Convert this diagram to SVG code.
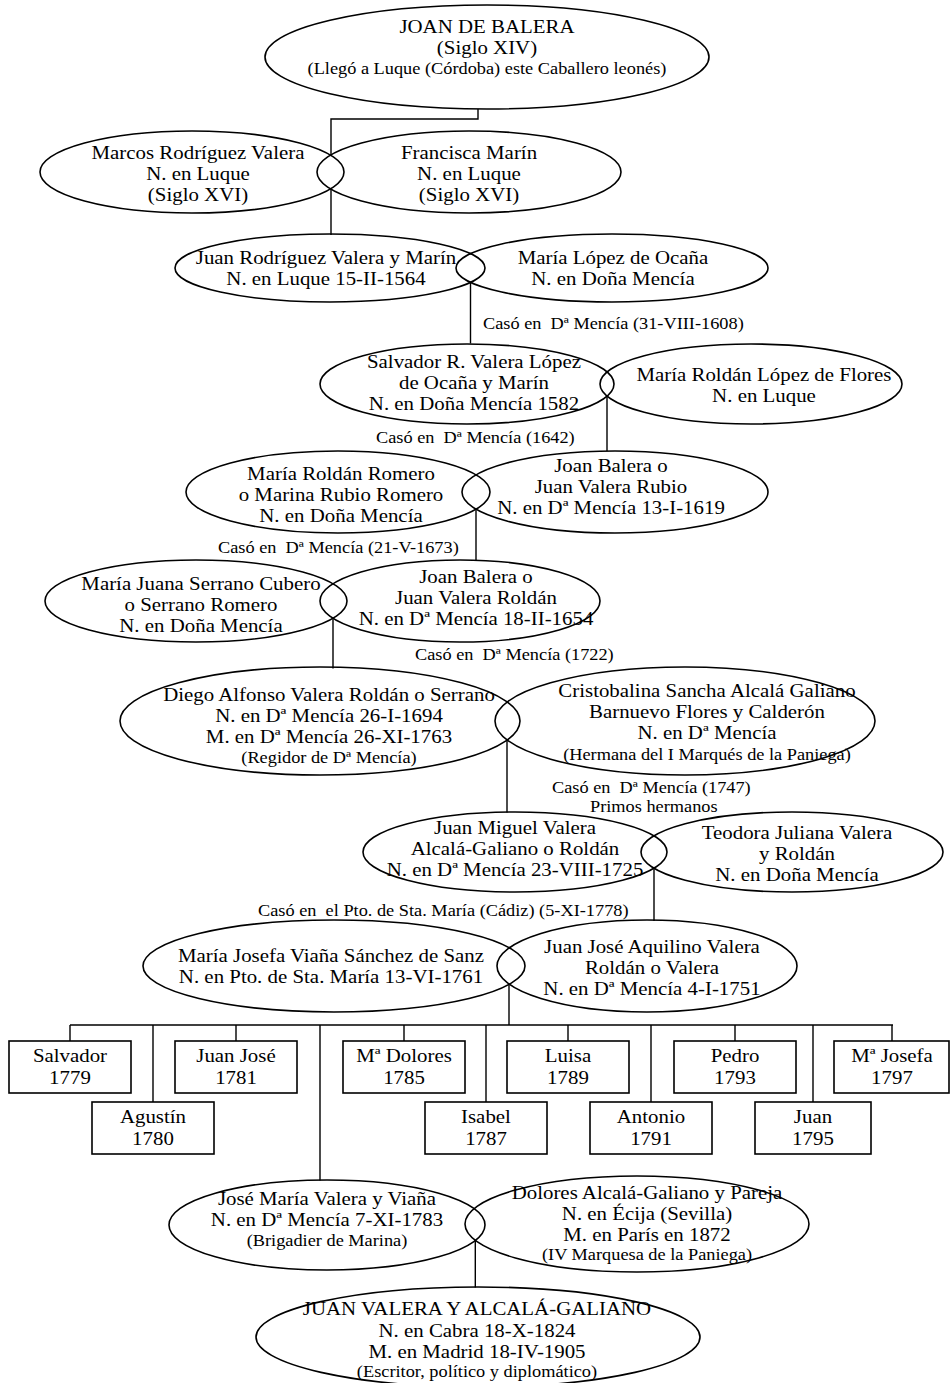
<svg xmlns="http://www.w3.org/2000/svg" width="951" height="1383" viewBox="0 0 951 1383">
<style>
.n{fill:none;stroke:#000;stroke-width:1.6}
.b{fill:#fff;stroke:#000;stroke-width:1.6}
.c{fill:none;stroke:#000;stroke-width:1.4}
text{font-family:"Liberation Serif","Times New Roman",serif;fill:#000;transform-box:fill-box}
.t{font-size:18.8px;text-anchor:middle;transform-origin:center;transform:scaleX(1.11)}
.s{font-size:16.5px;text-anchor:middle;transform-origin:center;transform:scaleX(1.11)}
.l{font-size:16.5px;transform-origin:left center;transform:scaleX(1.11)}
</style>
<rect width="951" height="1383" fill="#fff"/>
<g id="connectors">
<path class="c" d="M478,109 V119 H331 V155.5 M331,188.5 V235"/>
<path class="c" d="M470.5,282.5 V343.5"/>
<path class="c" d="M607,396 V451"/>
<path class="c" d="M476,509 V561"/>
<path class="c" d="M333,618.5 V668.5"/>
<path class="c" d="M507,740 V812.5"/>
<path class="c" d="M654,868 V921"/>
<path class="c" d="M509,984 V1025 M70,1025 H893 M70,1025 V1041 M236,1025 V1041 M404,1025 V1041 M568,1025 V1041 M735,1025 V1041 M892,1025 V1041 M153,1025 V1102 M486,1025 V1102 M651,1025 V1102 M813,1025 V1102 M320,1025 V1180.5"/>
<path class="c" d="M475.3,1240.4 V1287.5"/>
</g>
<g id="joan-de-balera">
<ellipse class="n" cx="487" cy="57" rx="222" ry="52"/>
<text class="t" x="487" y="33">JOAN DE BALERA</text>
<text class="t" x="487" y="54">(Siglo XIV)</text>
<text class="s" x="487" y="74">(Llegó a Luque (Córdoba) este Caballero leonés)</text>
</g>
<g id="marcos">
<ellipse class="n" cx="192" cy="172" rx="152" ry="41"/>
<text class="t" x="198" y="159">Marcos Rodríguez Valera</text>
<text class="t" x="198" y="180">N. en Luque</text>
<text class="t" x="198" y="201">(Siglo XVI)</text>
</g>
<g id="francisca">
<ellipse class="n" cx="469" cy="172" rx="152" ry="41"/>
<text class="t" x="469" y="159">Francisca Marín</text>
<text class="t" x="469" y="180">N. en Luque</text>
<text class="t" x="469" y="201">(Siglo XVI)</text>
</g>
<g id="juan-rodriguez">
<ellipse class="n" cx="330" cy="268" rx="155" ry="34"/>
<text class="t" x="326" y="264">Juan Rodríguez Valera y Marín</text>
<text class="t" x="326" y="285">N. en Luque 15-II-1564</text>
</g>
<g id="maria-lopez">
<ellipse class="n" cx="612" cy="268" rx="156" ry="34"/>
<text class="t" x="613" y="264">María López de Ocaña</text>
<text class="t" x="613" y="285">N. en Doña Mencía</text>
</g>
<text class="l" x="483" y="329">Casó en&#160; Dª Mencía (31-VIII-1608)</text>
<g id="salvador">
<ellipse class="n" cx="467" cy="384" rx="147" ry="40"/>
<text class="t" x="474" y="368">Salvador R. Valera López</text>
<text class="t" x="474" y="389">de Ocaña y Marín</text>
<text class="t" x="474" y="410">N. en Doña Mencía 1582</text>
</g>
<g id="maria-roldan-lopez">
<ellipse class="n" cx="751" cy="384" rx="151" ry="40"/>
<text class="t" x="764" y="381">María Roldán López de Flores</text>
<text class="t" x="764" y="402">N. en Luque</text>
</g>
<text class="l" x="376" y="443">Casó en&#160; Dª Mencía (1642)</text>
<g id="maria-roldan-romero">
<ellipse class="n" cx="338" cy="492" rx="152" ry="41"/>
<text class="t" x="341" y="480">María Roldán Romero</text>
<text class="t" x="341" y="501">o Marina Rubio Romero</text>
<text class="t" x="341" y="522">N. en Doña Mencía</text>
</g>
<g id="joan-balera-rubio">
<ellipse class="n" cx="615" cy="492" rx="153" ry="41"/>
<text class="t" x="611" y="472">Joan Balera o</text>
<text class="t" x="611" y="493">Juan Valera Rubio</text>
<text class="t" x="611" y="514">N. en Dª Mencía 13-I-1619</text>
</g>
<text class="l" x="218" y="553">Casó en&#160; Dª Mencía (21-V-1673)</text>
<g id="maria-juana-serrano">
<ellipse class="n" cx="196" cy="601" rx="151" ry="41"/>
<text class="t" x="201" y="590">María Juana Serrano Cubero</text>
<text class="t" x="201" y="611">o Serrano Romero</text>
<text class="t" x="201" y="632">N. en Doña Mencía</text>
</g>
<g id="joan-balera-roldan">
<ellipse class="n" cx="460" cy="601" rx="140" ry="41"/>
<text class="t" x="476" y="583">Joan Balera o</text>
<text class="t" x="476" y="604">Juan Valera Roldán</text>
<text class="t" x="476" y="625">N. en Dª Mencía 18-II-1654</text>
</g>
<text class="l" x="415" y="660">Casó en&#160; Dª Mencía (1722)</text>
<g id="diego-alfonso">
<ellipse class="n" cx="320" cy="721" rx="200" ry="54"/>
<text class="t" x="329" y="701">Diego Alfonso Valera Roldán o Serrano</text>
<text class="t" x="329" y="722">N. en Dª Mencía 26-I-1694</text>
<text class="t" x="329" y="743">M. en Dª Mencía 26-XI-1763</text>
<text class="s" x="329" y="763">(Regidor de Dª Mencía)</text>
</g>
<g id="cristobalina">
<ellipse class="n" cx="685" cy="721" rx="190" ry="54"/>
<text class="t" x="707" y="697">Cristobalina Sancha Alcalá Galiano</text>
<text class="t" x="707" y="718">Barnuevo Flores y Calderón</text>
<text class="t" x="707" y="739">N. en Dª Mencía</text>
<text class="s" x="707" y="760">(Hermana del I Marqués de la Paniega)</text>
</g>
<text class="l" x="552" y="793">Casó en&#160; Dª Mencía (1747)</text>
<text class="l" x="590" y="812">Primos hermanos</text>
<g id="juan-miguel">
<ellipse class="n" cx="515" cy="852" rx="152" ry="40"/>
<text class="t" x="515" y="834">Juan Miguel Valera</text>
<text class="t" x="515" y="855">Alcalá-Galiano o Roldán</text>
<text class="t" x="515" y="876">N. en Dª Mencía 23-VIII-1725</text>
</g>
<g id="teodora">
<ellipse class="n" cx="792" cy="852" rx="151" ry="40"/>
<text class="t" x="797" y="839">Teodora Juliana Valera</text>
<text class="t" x="797" y="860">y Roldán</text>
<text class="t" x="797" y="881">N. en Doña Mencía</text>
</g>
<text class="l" x="258" y="916">Casó en&#160; el Pto. de Sta. María (Cádiz) (5-XI-1778)</text>
<g id="maria-josefa-viana">
<ellipse class="n" cx="334" cy="966" rx="191" ry="46"/>
<text class="t" x="331" y="962">María Josefa Viaña Sánchez de Sanz</text>
<text class="t" x="331" y="983">N. en Pto. de Sta. María 13-VI-1761</text>
</g>
<g id="juan-jose-aquilino">
<ellipse class="n" cx="647" cy="966" rx="150" ry="46"/>
<text class="t" x="652" y="953">Juan José Aquilino Valera</text>
<text class="t" x="652" y="974">Roldán o Valera</text>
<text class="t" x="652" y="995">N. en Dª Mencía 4-I-1751</text>
</g>
<g id="salvador-1779"><rect class="b" x="9" y="1041" width="122" height="52"/><text class="t" x="70" y="1062">Salvador</text><text class="t" x="70" y="1084">1779</text></g>
<g id="agustin-1780"><rect class="b" x="92" y="1102" width="122" height="52"/><text class="t" x="153" y="1123">Agustín</text><text class="t" x="153" y="1145">1780</text></g>
<g id="juan-jose-1781"><rect class="b" x="175" y="1041" width="122" height="52"/><text class="t" x="236" y="1062">Juan José</text><text class="t" x="236" y="1084">1781</text></g>
<g id="dolores-1785"><rect class="b" x="343" y="1041" width="122" height="52"/><text class="t" x="404" y="1062">Mª Dolores</text><text class="t" x="404" y="1084">1785</text></g>
<g id="isabel-1787"><rect class="b" x="425" y="1102" width="122" height="52"/><text class="t" x="486" y="1123">Isabel</text><text class="t" x="486" y="1145">1787</text></g>
<g id="luisa-1789"><rect class="b" x="507" y="1041" width="122" height="52"/><text class="t" x="568" y="1062">Luisa</text><text class="t" x="568" y="1084">1789</text></g>
<g id="antonio-1791"><rect class="b" x="590" y="1102" width="122" height="52"/><text class="t" x="651" y="1123">Antonio</text><text class="t" x="651" y="1145">1791</text></g>
<g id="pedro-1793"><rect class="b" x="674" y="1041" width="122" height="52"/><text class="t" x="735" y="1062">Pedro</text><text class="t" x="735" y="1084">1793</text></g>
<g id="juan-1795"><rect class="b" x="755" y="1102" width="116" height="52"/><text class="t" x="813" y="1123">Juan</text><text class="t" x="813" y="1145">1795</text></g>
<g id="josefa-1797"><rect class="b" x="834" y="1041" width="115" height="52"/><text class="t" x="892" y="1062">Mª Josefa</text><text class="t" x="892" y="1084">1797</text></g>
<g id="jose-maria">
<ellipse class="n" cx="327" cy="1225" rx="158" ry="45"/>
<text class="t" x="327" y="1205">José María Valera y Viaña</text>
<text class="t" x="327" y="1226">N. en Dª Mencía 7-XI-1783</text>
<text class="s" x="327" y="1246">(Brigadier de Marina)</text>
</g>
<g id="dolores-alcala">
<ellipse class="n" cx="637" cy="1224" rx="172" ry="48"/>
<text class="t" x="647" y="1199">Dolores Alcalá-Galiano y Pareja</text>
<text class="t" x="647" y="1220">N. en Écija (Sevilla)</text>
<text class="t" x="647" y="1241">M. en París en 1872</text>
<text class="s" x="647" y="1260.5">(IV Marquesa de la Paniega)</text>
</g>
<g id="juan-valera">
<ellipse class="n" cx="478" cy="1337" rx="222" ry="50"/>
<text class="t" x="477" y="1315">JUAN VALERA Y ALCALÁ-GALIANO</text>
<text class="t" x="477" y="1337">N. en Cabra 18-X-1824</text>
<text class="t" x="477" y="1358">M. en Madrid 18-IV-1905</text>
<text class="s" x="477" y="1377.5">(Escritor, político y diplomático)</text>
</g>
</svg>
